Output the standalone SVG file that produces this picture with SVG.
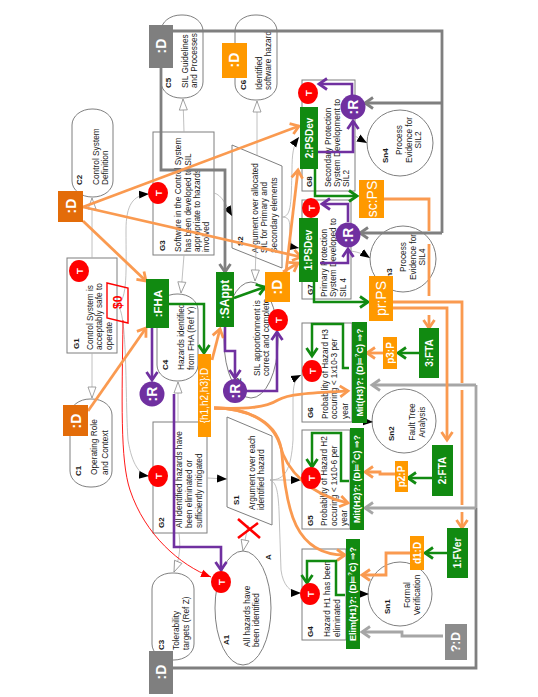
<svg xmlns="http://www.w3.org/2000/svg" width="538" height="697" viewBox="0 0 538 697">
<style>
text{font-family:"Liberation Sans","DejaVu Sans",sans-serif}
.t{font-size:8.3px;fill:#1a1a1a}
.b{font-size:8px;font-weight:bold;fill:#1a1a1a}
.c{text-anchor:middle}
.w{fill:#fff;text-anchor:middle;dominant-baseline:central;font-weight:bold;font-size:10px}
.l{font-size:14px;font-weight:bold}
.n{font-size:14px;font-weight:normal}
.tt{font-size:9.5px}
.shape{fill:none;stroke:#7f7f7f;stroke-width:1}
.grn{fill:#118a11}.org{fill:#ff9900}.dor{fill:#e36c09}.gry{fill:#7f7f7f}.pur{fill:#7030a0}.red{fill:#ff0000}
.cn{fill:none;stroke-linejoin:miter}
.a-o{stroke:#fa9a50;stroke-width:2.8;marker-end:url(#mo)}
.o{stroke:#fa9a50;stroke-width:2.8}
.a-g{stroke:#118a11;stroke-width:2.5;marker-end:url(#mg)}
.a-p{stroke:#7030a0;stroke-width:2.6;marker-end:url(#mp)}
.a-y{stroke:#7f7f7f;stroke-width:2.8;marker-end:url(#my)}
.y{stroke:#7f7f7f;stroke-width:2.8}
.a-l{stroke:#a6a6a6;stroke-width:2.8;marker-end:url(#ml)}
.l2{stroke:#a6a6a6;stroke-width:2.8}
.h{stroke:#b0b0b0;stroke-width:.8;marker-end:url(#mh)}
.k{stroke:#b0b0b0;stroke-width:.8;marker-end:url(#mk)}
</style>
<defs>
<marker id="mo" markerUnits="userSpaceOnUse" markerWidth="14" markerHeight="14" refX="11" refY="7" orient="auto"><path d="M3,1.500L11,7L3,12.500" fill="none" stroke="#fa9a50" stroke-width="2.800"/></marker>
<marker id="mg" markerUnits="userSpaceOnUse" markerWidth="14" markerHeight="14" refX="11" refY="7" orient="auto"><path d="M3,1.500L11,7L3,12.500" fill="none" stroke="#118a11" stroke-width="2.800"/></marker>
<marker id="mp" markerUnits="userSpaceOnUse" markerWidth="14" markerHeight="14" refX="11" refY="7" orient="auto"><path d="M3,1.500L11,7L3,12.500" fill="none" stroke="#7030a0" stroke-width="2.800"/></marker>
<marker id="my" markerUnits="userSpaceOnUse" markerWidth="14" markerHeight="14" refX="11" refY="7" orient="auto"><path d="M3,1.500L11,7L3,12.500" fill="none" stroke="#7f7f7f" stroke-width="2.800"/></marker>
<marker id="ml" markerUnits="userSpaceOnUse" markerWidth="14" markerHeight="14" refX="11" refY="7" orient="auto"><path d="M3,1.500L11,7L3,12.500" fill="none" stroke="#a6a6a6" stroke-width="2.800"/></marker>
<marker id="mh" markerUnits="userSpaceOnUse" markerWidth="14" markerHeight="12" refX="12" refY="6" orient="auto"><path d="M1,2L12,6L1,10Z" fill="#fff" stroke="#8c8c8c" stroke-width=".8"/></marker>
<marker id="mk" markerUnits="userSpaceOnUse" markerWidth="12" markerHeight="12" refX="10" refY="5" orient="auto"><path d="M0,1L10,5L0,9Z" fill="#000"/></marker>
<marker id="mr" markerUnits="userSpaceOnUse" markerWidth="12" markerHeight="12" refX="10" refY="5" orient="auto"><path d="M0,1L10,5L0,9Z" fill="#f00"/></marker>
</defs>

<g id="C2"><rect class="shape" x="72" y="109" width="41" height="88" rx="20" ry="16"/><text class="b" transform="translate(82 185) rotate(-90)">C2</text><text class="t" transform="translate(99 185) rotate(-90)">Control System</text><text class="t" transform="translate(108 185) rotate(-90)">Definition</text></g>
<g id="C5"><rect class="shape" x="161" y="15" width="42" height="83" rx="20" ry="16"/><text class="b" transform="translate(171 88) rotate(-90)">C5</text><text class="t" transform="translate(188 88) rotate(-90)">SIL Guidelines</text><text class="t" transform="translate(197 88) rotate(-90)">and Processes</text></g>
<g id="C6"><rect class="shape" x="235" y="15" width="42" height="85" rx="20" ry="16"/><text class="b" transform="translate(246 90) rotate(-90)">C6</text><text class="t" transform="translate(262 90) rotate(-90)">Identified</text><text class="t" transform="translate(271 90) rotate(-90)">software hazard</text></g>
<g id="G1"><rect class="shape" x="67" y="258" width="50" height="95"/><text class="b" transform="translate(79 349) rotate(-90)">G1</text><text class="t" transform="translate(93 350) rotate(-90)">Control System is</text><text class="t" transform="translate(102 350) rotate(-90)">acceptably safe to</text><text class="t" transform="translate(112 350) rotate(-90)">operate</text></g>
<g id="G3"><rect class="shape" x="153" y="132" width="61" height="123"/><text class="b" transform="translate(165 251) rotate(-90)">G3</text><text class="t" transform="translate(181 252) rotate(-90)">Software in the Control System</text><text class="t" transform="translate(191 252) rotate(-90)">has been developed to SIL</text><text class="t" transform="translate(200 252) rotate(-90)">appropriate to hazards</text><text class="t" transform="translate(209 252) rotate(-90)">involved</text></g>
<g id="S2"><path class="shape" d="M232,145L282,166L282,268L232,248Z"/><text class="b" transform="translate(243 246) rotate(-90)">S2</text><text class="t" transform="translate(258 253) rotate(-90)">Argument over allocated</text><text class="t" transform="translate(267 253) rotate(-90)">SIL for Primary and</text><text class="t" transform="translate(277 253) rotate(-90)">Secondary elements</text></g>
<g id="C4"><rect class="shape" x="157" y="294" width="41" height="87" rx="20" ry="16"/><text class="b" transform="translate(168 370) rotate(-90)">C4</text><text class="t" transform="translate(184 370) rotate(-90)">Hazards identified</text><text class="t" transform="translate(194 370) rotate(-90)">from FHA (Ref Y)</text></g>
<g id="C1"><rect class="shape" x="70" y="399" width="42" height="88" rx="20" ry="16"/><text class="b" transform="translate(81 476) rotate(-90)">C1</text><text class="t" transform="translate(97 475) rotate(-90)">Operating Role</text><text class="t" transform="translate(108 475) rotate(-90)">and Context</text></g>
<g id="G2"><rect class="shape" x="153" y="422" width="54" height="111"/><text class="b" transform="translate(164 528) rotate(-90)">G2</text><text class="t" transform="translate(182 528) rotate(-90)">All identified hazards have</text><text class="t" transform="translate(192 528) rotate(-90)">been eliminated or</text><text class="t" transform="translate(202 528) rotate(-90)">sufficiently mitigated</text></g>
<g id="S1"><path class="shape" d="M227,417L272,436L272,525L227,507Z"/><text class="b" transform="translate(239 505) rotate(-90)">S1</text><text class="t" transform="translate(255 510) rotate(-90)">Argument over each</text><text class="t" transform="translate(264 510) rotate(-90)">identified hazard</text></g>
<g id="A2"><ellipse class="shape" cx="251" cy="340" rx="27" ry="58"/><text class="b" transform="translate(241 388) rotate(-90)">A2</text><text class="t" transform="translate(260 376) rotate(-90)">SIL apportionment is</text><text class="t" transform="translate(269 376) rotate(-90)">correct and complete</text></g>
<g id="A1"><ellipse class="shape" cx="243" cy="608" rx="28" ry="57"/><text class="b" transform="translate(229 645) rotate(-90)">A1</text><text class="t" transform="translate(250 647) rotate(-90)">All hazards have</text><text class="t" transform="translate(259 647) rotate(-90)">been identified</text><text class="b" transform="translate(271 560) rotate(-90)">A</text></g>
<g id="C3"><rect class="shape" x="152" y="573" width="42" height="87" rx="20" ry="16"/><text class="b" transform="translate(164 650) rotate(-90)">C3</text><text class="t" transform="translate(179 650) rotate(-90)">Tolerability</text><text class="t" transform="translate(189 650) rotate(-90)">targets (Ref Z)</text></g>
<g id="G4"><rect class="shape" x="302" y="549" width="44" height="91"/><text class="b" transform="translate(313 637) rotate(-90)">G4</text><text class="t" transform="translate(330 637) rotate(-90)">Hazard H1 has been</text><text class="t" transform="translate(340 637) rotate(-90)">eliminated</text></g>
<g id="G5"><rect class="shape" x="302" y="430" width="48" height="99"/><text class="b" transform="translate(313 526) rotate(-90)">G5</text><text class="t" transform="translate(327 526) rotate(-90)">Probability of Hazard H2</text><text class="t" transform="translate(337 526) rotate(-90)">occuring &lt; 1x10-6 per</text><text class="t" transform="translate(347 526) rotate(-90)">year</text></g>
<g id="G6"><rect class="shape" x="302" y="323" width="50" height="99"/><text class="b" transform="translate(313 418) rotate(-90)">G6</text><text class="t" transform="translate(328 419) rotate(-90)">Probability of Hazard H3</text><text class="t" transform="translate(337 419) rotate(-90)">occuring &lt; 1x10-3 per</text><text class="t" transform="translate(348 419) rotate(-90)">year</text></g>
<g id="G7"><rect class="shape" x="302" y="200" width="49" height="99"/><text class="b" transform="translate(313 295) rotate(-90)">G7</text><text class="t" transform="translate(327 297) rotate(-90)">Primary Protection</text><text class="t" transform="translate(336 297) rotate(-90)">System Developed to</text><text class="t" transform="translate(346 297) rotate(-90)">SIL 4</text></g>
<g id="G8"><rect class="shape" x="302" y="80" width="53" height="111"/><text class="b" transform="translate(312 187) rotate(-90)">G8</text><text class="t" transform="translate(331 187) rotate(-90)">Secondary Protection</text><text class="t" transform="translate(340 187) rotate(-90)">System Development to</text><text class="t" transform="translate(349 187) rotate(-90)">SIL2</text></g>
<g id="Sn4"><circle class="shape" cx="400" cy="143" r="33"/><text class="b" transform="translate(388 163) rotate(-90)">Sn4</text><text class="t c" transform="translate(402 140) rotate(-90)">Process</text><text class="t c" transform="translate(412 140) rotate(-90)">Evidence for</text><text class="t c" transform="translate(421 140) rotate(-90)">SIL2</text></g>
<g id="Sn3"><circle class="shape" cx="403" cy="259" r="33"/><text class="b" transform="translate(392 283) rotate(-90)">Sn3</text><text class="t c" transform="translate(406 257) rotate(-90)">Process</text><text class="t c" transform="translate(416 257) rotate(-90)">Evidence for</text><text class="t c" transform="translate(425 257) rotate(-90)">SIL4</text></g>
<g id="Sn2"><circle class="shape" cx="404" cy="421" r="32"/><text class="b" transform="translate(394 441) rotate(-90)">Sn2</text><text class="t c" transform="translate(415 422) rotate(-90)">Fault Tree</text><text class="t c" transform="translate(425 422) rotate(-90)">Analysis</text></g>
<g id="Sn1"><circle class="shape" cx="400" cy="594" r="32"/><text class="b" transform="translate(390 614) rotate(-90)">Sn1</text><text class="t c" transform="translate(410 595) rotate(-90)">Formal</text><text class="t c" transform="translate(420 595) rotate(-90)">Verification</text></g>

<g id="connectors" class="cn">
<path class="cn h" d="M92,258L92,198"/>
<path class="cn h" d="M92,353L92,398"/>
<path class="cn h" d="M184,132L183,99"/>
<path class="cn h" d="M257,155L257,101"/>
<path class="cn h" d="M184,255L181,293"/>
<path class="cn h" d="M178,422L178,382"/>
<path class="cn h" d="M179,533C181,550 179,560 174,572"/>
<path class="cn h" d="M248,525L243,551"/>
<path class="cn h" d="M256,248L255,281"/>
<path class="cn k" d="M117,305C128,300 126,270 126,230C126,205 133,195 149,194"/>
<path class="cn k" d="M117,305C128,310 125,400 128,440C132,465 140,475 149,476"/>
<path class="cn k" d="M214,193C222,195 226,205 232,216"/>
<path class="cn k" d="M282,217C292,217 291,200 292,170C292,155 293,145 299,137"/>
<path class="cn k" d="M282,217C292,217 289,225 290,235C290,243 293,247 299,248"/>
<path class="cn k" d="M207,478L227,479"/>
<path class="cn k" d="M270,480L301,480"/>
<path class="cn k" d="M270,480C285,480 291,470 293,440L293,400C293,385 295,378 301,375"/>
<path class="cn k" d="M270,480C276,482 278,490 279,510L281,570C283,585 290,593 301,593"/>
<path class="cn k" d="M355,136L367,143"/>
<path class="cn k" d="M351,251C358,252 364,254 370,258"/>
<path class="cn k" d="M360,421L373,422"/>
<path class="cn k" d="M359,594L369,594"/>
<path class="cn" style="stroke:#f00;stroke-width:.9;marker-end:url(#mr)" d="M123,320C122,400 120,460 130,490C145,535 180,565 211,577"/>
<path class="cn y" d="M173,31L442,31L442,233"/>
<path class="cn a-y" d="M442,103L365,103"/>
<path class="cn a-y" d="M442,233L360,233"/>
<path class="cn a-y" d="M161,68L161,170L225,170L225,272"/>
<path class="cn y" d="M476,508L476,668L173,668"/>
<path class="cn l2" d="M476,385L476,508"/>
<path class="cn a-l" d="M476,385L372,385"/>
<path class="cn a-l" d="M476,508L365,508"/>
<path class="cn a-l" d="M443,636L402,636L402,632L362,632"/>
<path class="cn a-o" d="M83,207L299,126"/>
<path class="cn a-o" d="M83,207L301,257"/>
<path class="cn a-o" d="M83,221L146,281"/>
<path class="cn a-o" d="M88,411L146,328"/>
<path class="cn a-o" d="M283,272L298,263"/>
<path class="cn a-o" d="M286,272L298,170"/>
<path class="cn a-o" d="M212,360L220,329"/>
<path class="cn a-o" d="M214,408C245,409 265,408 278,400C288,394 310,393 348,391"/>
<path class="cn a-o" d="M214,408C245,408 272,420 280,445C286,470 310,495 348,503"/>
<path class="cn a-o" d="M214,408C245,408 280,420 282,455C286,510 295,555 345,555"/>
<path class="cn o" d="M384,199L429,199L429,231"/>
<path class="cn o" d="M429,244L429,296"/>
<path class="cn a-o" d="M429,315L429,328"/>
<path class="cn o" d="M393,302L462,302L462,383"/>
<path class="cn o" d="M462,390L462,505"/>
<path class="cn a-o" d="M462,512L462,528"/>
<path class="cn a-o" d="M393,308L447,308L447,440"/>
<path class="cn a-o" d="M383,353L367,353"/>
<path class="cn a-o" d="M395,474L380,474L380,472L365,472"/>
<path class="cn a-o" d="M410,553L386,553L386,575L362,575"/>
<path class="cn a-g" d="M234,298L265,287"/>
<path class="cn a-g" d="M169,304L204,304L204,353"/>
<path class="cn a-g" d="M315,169L315,196L357,196"/>
<path class="cn a-g" d="M314,282L314,302L368,302"/>
<path class="cn a-g" d="M349,368L343,368L343,324L312,324L312,356"/>
<path class="cn a-g" d="M349,481L341,481L341,433L312,433L312,467"/>
<path class="cn a-g" d="M345,595L336,595L336,561L307,561L307,583"/>
<path class="cn a-g" d="M419,353L398,353"/>
<path class="cn a-g" d="M432,478L408,478"/>
<path class="cn a-g" d="M447,553L425,553"/>
<path class="cn a-p" d="M152,328L152,380"/>
<path class="cn a-p" d="M225,327L225,351L235,351L235,378"/>
<path class="cn a-p" d="M174,394L174,547L221,547L221,570"/>
<path class="cn a-p" d="M245,391L277,391L277,332"/>
<path class="cn a-p" d="M352,96L352,84L319,84"/>
<path class="cn a-p" d="M318,152L353,152L353,121"/>
<path class="cn a-p" d="M348,222L348,204L322,204"/>
<path class="cn a-p" d="M320,263L348,263L348,249"/>
</g>

<g id="S0"><path d="M107,283L128,288L128,323L107,318Z" fill="none" stroke="#f00" stroke-width="1.400"/><text transform="translate(122 309) rotate(-90)" style="font-size:12px;font-weight:bold;fill:#f00">$0</text></g>
<g id="cross"><path d="M238,519L260,538M238,538L258,523" stroke="#f00" stroke-width="2.600" fill="none"/></g>

<g id="T1"><ellipse class="red" cx="79" cy="271" rx="10" ry="11"/><text class="w tt" transform="translate(79 271) rotate(-90)">T</text></g>
<g id="T2"><ellipse class="red" cx="158" cy="193" rx="10" ry="11"/><text class="w tt" transform="translate(158 193) rotate(-90)">T</text></g>
<g id="T3"><ellipse class="red" cx="158" cy="476" rx="10" ry="11"/><text class="w tt" transform="translate(158 476) rotate(-90)">T</text></g>
<g id="T4"><ellipse class="red" cx="221" cy="582" rx="10" ry="11"/><text class="w tt" transform="translate(221 582) rotate(-90)">T</text></g>
<g id="T5"><ellipse class="red" cx="278" cy="320" rx="10" ry="11"/><text class="w tt" transform="translate(278 320) rotate(-90)">T</text></g>
<g id="T6"><ellipse class="red" cx="308" cy="93" rx="10" ry="11"/><text class="w tt" transform="translate(308 93) rotate(-90)">T</text></g>
<g id="T7"><ellipse class="red" cx="311" cy="208" rx="9" ry="10"/><text class="w tt" transform="translate(311 208) rotate(-90)">T</text></g>
<g id="T8"><ellipse class="red" cx="312" cy="371" rx="10" ry="11"/><text class="w tt" transform="translate(312 371) rotate(-90)">T</text></g>
<g id="T9"><ellipse class="red" cx="311" cy="478" rx="10" ry="11"/><text class="w tt" transform="translate(311 478) rotate(-90)">T</text></g>
<g id="T10"><ellipse class="red" cx="310" cy="594" rx="10" ry="11"/><text class="w tt" transform="translate(310 594) rotate(-90)">T</text></g>

<g id="D-gray-top"><rect class="gry" x="149" y="25" width="24" height="43"/><text class="w l" transform="translate(161 46) rotate(-90)">:D</text></g>
<g id="D-gray-bottom"><rect class="gry" x="149" y="651" width="24" height="43"/><text class="w l" transform="translate(161 672) rotate(-90)">:D</text></g>
<g id="D-C6"><rect class="org" x="222" y="43" width="25" height="35"/><text class="w l" transform="translate(234 60) rotate(-90)">:D</text></g>
<g id="D-C2"><rect class="dor" x="58" y="191" width="25" height="31"/><text class="w l" transform="translate(71 206) rotate(-90)">:D</text></g>
<g id="D-C1"><rect class="dor" x="63" y="405" width="25" height="31"/><text class="w l" transform="translate(76 421) rotate(-90)">:D</text></g>
<g id="D-mid"><rect class="org" x="265" y="272" width="25" height="30"/><text class="w l" transform="translate(277 287) rotate(-90)">:D</text></g>
<g id="D-unknown"><rect x="445" y="624" width="22" height="36" fill="#8c8c8c"/><text class="w" style="font-size:12px" transform="translate(456 642) rotate(-90)">?:D</text></g>
<g id="FHA"><rect class="grn" x="146" y="279" width="23" height="49"/><text class="w" style="font-size:11.500px" transform="translate(157.500 303.500) rotate(-90)">:FHA</text></g>
<g id="SAppt"><rect class="grn" x="216" y="272" width="18" height="55"/><text class="w" style="font-size:12px" transform="translate(225 299.500) rotate(-90)">:SAppt</text></g>
<g id="h123"><rect class="org" x="198" y="354" width="13" height="83"/><text class="w" style="font-size:10px;font-weight:normal" transform="translate(204.500 395.500) rotate(-90)">{h1,h2,h3}:D</text></g>
<g id="R1"><circle class="pur" cx="152" cy="394" r="12.500"/><text class="w l" transform="translate(152 394) rotate(-90)">:R</text></g>
<g id="R2"><circle class="pur" cx="235" cy="391" r="12"/><text class="w l" transform="translate(235 391) rotate(-90)">:R</text></g>
<g id="R3"><circle class="pur" cx="353" cy="107" r="12.500"/><text class="w l" transform="translate(353 107) rotate(-90)">:R</text></g>
<g id="R4"><circle class="pur" cx="348" cy="235" r="12.500"/><text class="w l" transform="translate(348 235) rotate(-90)">:R</text></g>
<g id="PSDev2"><rect class="grn" x="300" y="107" width="18" height="62"/><text class="w" transform="translate(309 138) rotate(-90)">2:PSDev</text></g>
<g id="PSDev1"><rect class="grn" x="299" y="218" width="19" height="64"/><text class="w" transform="translate(308.500 250) rotate(-90)">1:PSDev</text></g>
<g id="scPS"><rect class="org" x="359" y="180" width="25" height="38"/><text class="w n" transform="translate(371.500 199) rotate(-90)">sc:PS</text></g>
<g id="prPS"><rect class="org" x="369" y="276" width="24" height="45"/><text class="w n" transform="translate(381 298.500) rotate(-90)">pr:PS</text></g>
<g id="MitH3"><rect class="grn" x="352" y="322" width="15" height="101"/><text class="w" style="font-size:9px" transform="translate(359.500 372.500) rotate(-90)">Mit(H3)?: (D⊨<tspan dy="-3" font-size="6">?</tspan><tspan dy="3">C) ⇒?</tspan></text></g>
<g id="MitH2"><rect class="grn" x="350" y="428" width="14" height="102"/><text class="w" style="font-size:9px" transform="translate(357 479) rotate(-90)">Mit(H2)?: (D⊨<tspan dy="-3" font-size="6">?</tspan><tspan dy="3">C) ⇒?</tspan></text></g>
<g id="ElimH1"><rect class="grn" x="346" y="539" width="14" height="110"/><text class="w" style="font-size:9px" transform="translate(353 594) rotate(-90)">Elim(H1)?: (D⊨<tspan dy="-3" font-size="6">?</tspan><tspan dy="3">C) ⇒?</tspan></text></g>
<g id="p3"><rect class="org" x="383" y="337" width="14" height="32"/><text class="w" transform="translate(390 353) rotate(-90)">p3:P</text></g>
<g id="p2"><rect class="org" x="395" y="461" width="13" height="31"/><text class="w" transform="translate(401.500 476.500) rotate(-90)">p2:P</text></g>
<g id="d1"><rect class="org" x="410" y="536" width="14" height="34"/><text class="w" transform="translate(417 553) rotate(-90)">d1:D</text></g>
<g id="FTA3"><rect class="grn" x="419" y="328" width="20" height="50"/><text class="w" transform="translate(429 353) rotate(-90)">3:FTA</text></g>
<g id="FTA2"><rect class="grn" x="432" y="445" width="21" height="51"/><text class="w" transform="translate(442.500 470.500) rotate(-90)">2:FTA</text></g>
<g id="FVer1"><rect class="grn" x="447" y="528" width="21" height="50"/><text class="w" transform="translate(457.500 553) rotate(-90)">1:FVer</text></g>
</svg>
